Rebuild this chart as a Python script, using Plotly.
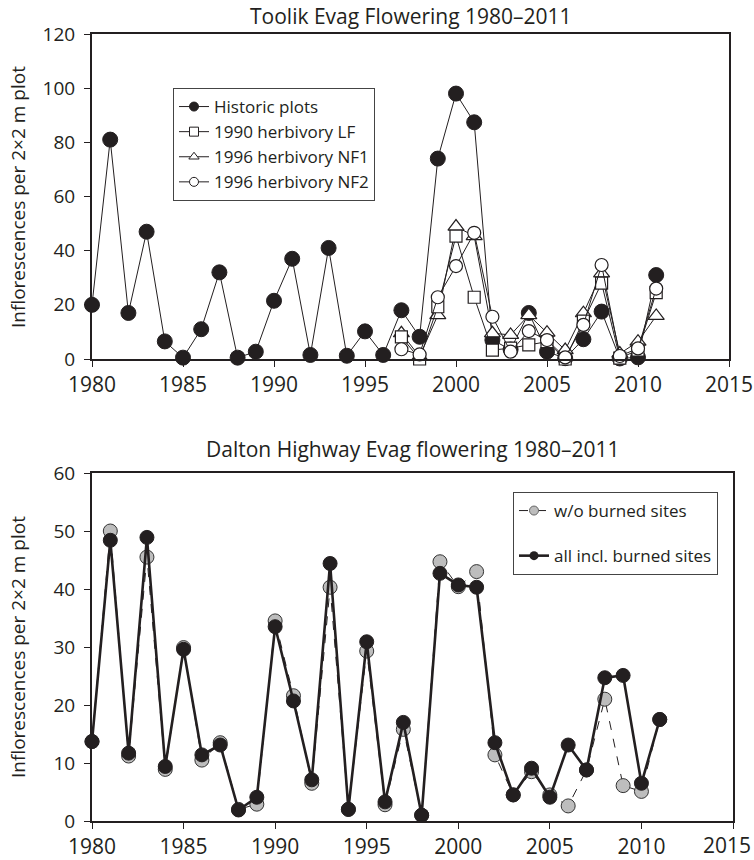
import plotly.graph_objects as go

# ---- Toolik: inflorescences per 2x2 m plot ----
years_toolik = list(range(1980, 2012))
historic = [20, 81, 17, 47, 6.5, 0.5, 11, 32, 0.5, 2.7, 21.5, 37, 1.5, 41, 1.2, 10.2,
            1.5, 18, 8.2, 74, 98, 87.4, 7, 3.5, 17, 2.7, 0.3, 7.3, 17.5, 0.2, 0.6, 31]

years_herb = list(range(1997, 2012))
herb_lf_1990 = [8.2, 0, 19.3, 45.4, 22.8, 3.3, 4, 5.2, 6.4, 0, 14, 28, 0.3, 3.3, 24.5]
herb_nf1_1996 = [9.5, 0.9, 16.2, 48.9, 45.4, 9.5, 8.9, 16.2, 9.7, 3.3, 16.9, 31.6, 2, 6.4, 15.9]
herb_nf2_1996 = [3.6, 1.7, 22.8, 34.3, 46.6, 15.6, 2.7, 10.3, 7, 0.6, 12.6, 34.7, 1.1, 3.9, 26]

# ---- Dalton Highway ----
years_dalton = list(range(1980, 2012))
all_incl_burned = [13.7, 48.4, 11.7, 48.9, 9.4, 29.6, 11.4, 13.1, 1.9, 4.1, 33.5, 20.7,
                   7.1, 44.4, 2.0, 30.9, 3.3, 17.0, 1.0, 42.7, 40.7, 40.3, 13.5, 4.5,
                   9.1, 4.1, 13.1, 8.8, 24.7, 25.1, 6.5, 17.5]
wo_burned = [13.7, 50.0, 11.2, 45.5, 8.9, 29.9, 10.5, 13.5, 2.0, 2.9, 34.5, 21.6,
             6.5, 40.3, 2.0, 29.3, 2.8, 15.8, 1.0, 44.7, 40.4, 43.0, 11.4, 4.5,
             8.5, 4.5, 2.6, 8.8, 21.0, 6.1, 5.1, 17.5]

x_ticks = [1980, 1985, 1990, 1995, 2000, 2005, 2010, 2015]
top_y_ticks = [0, 20, 40, 60, 80, 100, 120]
bottom_y_ticks = [0, 10, 20, 30, 40, 50, 60]

top_title = "Toolik Evag Flowering 1980\u20132011"
bottom_title = "Dalton Highway Evag flowering 1980\u20132011"
y_label = "Inflorescences per 2\u00d72 m plot"

INK = "#231f20"
FONT = "Open Sans"
W, H = 754, 860

# bottom axis: the last label sits on its own overlay axis, nudged left to stay on the page
bottom_x_text = [str(v) for v in x_ticks[:-1]] + [""]
bottom_last_tick = [x_ticks[-1]]

fig = go.Figure()

# ---------- Toolik traces ----------
fig.add_trace(go.Scatter(
    x=years_toolik, y=historic, mode="lines+markers", xaxis="x", yaxis="y",
    line=dict(color=INK, width=1),
    marker=dict(symbol="circle", size=15, color=INK, line=dict(color=INK, width=1)),
    cliponaxis=False, showlegend=False))

open_series = [
    (herb_nf1_1996, "triangle-up", 14),
    (herb_lf_1990, "square", 12),
    (herb_nf2_1996, "circle", 13),
]
for vals, sym, sz in open_series:
    fig.add_trace(go.Scatter(
        x=years_herb, y=vals, mode="lines+markers", xaxis="x", yaxis="y",
        line=dict(color=INK, width=1),
        marker=dict(symbol=sym, size=sz, color="white", line=dict(color=INK, width=1.2)),
        cliponaxis=False, showlegend=False))

# legend entries (smaller symbols than the plotted markers)
legend_top = [
    ("Historic plots", "circle", INK),
    ("1990 herbivory LF", "square", "white"),
    ("1996 herbivory NF1", "triangle-up", "white"),
    ("1996 herbivory NF2", "circle", "white"),
]
for name, sym, fill in legend_top:
    fig.add_trace(go.Scatter(
        x=[None], y=[None], mode="lines+markers", name=name, xaxis="x", yaxis="y",
        line=dict(color=INK, width=1),
        marker=dict(symbol=sym, size=9, color=fill, line=dict(color=INK, width=1)),
        legend="legend"))

# ---------- Dalton traces ----------
fig.add_trace(go.Scatter(
    x=years_dalton, y=wo_burned, mode="lines+markers", xaxis="x2", yaxis="y2",
    line=dict(color=INK, width=1, dash="dash"),
    marker=dict(symbol="circle", size=14, color="#bdbdbd", line=dict(color="#333333", width=1)),
    cliponaxis=False, showlegend=False))
fig.add_trace(go.Scatter(
    x=years_dalton, y=all_incl_burned, mode="lines+markers", xaxis="x2", yaxis="y2",
    line=dict(color=INK, width=2.6),
    marker=dict(symbol="circle", size=14, color=INK, line=dict(color=INK, width=1)),
    cliponaxis=False, showlegend=False))

# legend-only entries; they live on the overlay axis so that axis gets drawn
fig.add_trace(go.Scatter(
    x=[None], y=[None], mode="lines+markers", name="w/o burned sites",
    xaxis="x3", yaxis="y2", legendgroup="a",
    line=dict(color=INK, width=1, dash="dash"),
    marker=dict(symbol="circle", size=9, color="#bdbdbd", line=dict(color="#666666", width=1)),
    legend="legend2"))
fig.add_trace(go.Scatter(
    x=[None], y=[None], mode="lines+markers", name="all incl. burned sites",
    xaxis="x3", yaxis="y2", legendgroup="b",
    line=dict(color=INK, width=2.6),
    marker=dict(symbol="circle", size=9, color=INK),
    legend="legend2"))


def px_x(p):
    return p / W


def px_y(p):
    return 1 - p / H


axis_common = dict(
    showline=True, linecolor=INK, linewidth=2, mirror=True,
    ticks="outside", ticklen=6, tickwidth=1, tickcolor=INK,
    showgrid=False, zeroline=False, automargin=False,
)
x_font = dict(family=FONT, size=21, color=INK)
y_font = dict(family=FONT, size=19, color=INK)

fig.update_layout(
    width=W, height=H,
    margin=dict(l=0, r=0, t=0, b=0, autoexpand=False),
    paper_bgcolor="white", plot_bgcolor="white",
    font=dict(family=FONT, color=INK),
    xaxis=dict(domain=[px_x(92), px_x(729)], range=[1980, 2015], anchor="y",
               tickvals=x_ticks, ticklabelstandoff=0, ticklabeloverflow="allow",
               tickfont=x_font, **axis_common),
    yaxis=dict(domain=[px_y(359), px_y(34)], range=[0, 120], anchor="x",
               tickvals=top_y_ticks, ticklabelstandoff=5, tickfont=y_font, **axis_common),
    xaxis2=dict(domain=[px_x(92), px_x(733)], range=[1980, 2015], anchor="y2",
                tickvals=x_ticks, ticktext=bottom_x_text, ticklabelstandoff=0,
                ticklabeloverflow="allow", tickfont=x_font, **axis_common),
    xaxis3=dict(overlaying="x2", anchor="y2", side="bottom", range=[1980, 2015],
                tickvals=bottom_last_tick, ticktext=[str(v) for v in bottom_last_tick],
                ticks="outside", ticklen=6, tickwidth=1, tickcolor=INK,
                ticklabelstandoff=0, ticklabelshift=-6, ticklabeloverflow="allow",
                showline=False, showgrid=False, zeroline=False, automargin=False,
                tickfont=x_font),
    yaxis2=dict(domain=[px_y(821), px_y(473)], range=[0, 60], anchor="x2",
                tickvals=bottom_y_ticks, ticklabelstandoff=5, tickfont=y_font, **axis_common),
    legend=dict(
        x=px_x(173), y=px_y(88), xanchor="left", yanchor="top",
        bgcolor="white", bordercolor="#444444", borderwidth=1,
        font=dict(family=FONT, size=17, color=INK),
        itemwidth=30, tracegroupgap=0,
    ),
    legend2=dict(
        x=px_x(513), y=px_y(492), xanchor="left", yanchor="top",
        bgcolor="white", bordercolor="#444444", borderwidth=1,
        font=dict(family=FONT, size=17, color=INK),
        itemwidth=30, tracegroupgap=20,
    ),
    annotations=[
        dict(text=top_title, x=(px_x(92) + px_x(729)) / 2, y=px_y(16),
             xref="paper", yref="paper", showarrow=False,
             xanchor="center", yanchor="middle",
             font=dict(family=FONT, size=21, color=INK)),
        dict(text=bottom_title, x=(px_x(92) + px_x(733)) / 2, y=px_y(449),
             xref="paper", yref="paper", showarrow=False,
             xanchor="center", yanchor="middle",
             font=dict(family=FONT, size=21, color=INK)),
        dict(text=y_label, x=px_x(18), y=px_y(197), xref="paper", yref="paper",
             showarrow=False, textangle=-90, xanchor="center", yanchor="middle",
             font=dict(family=FONT, size=19, color=INK)),
        dict(text=y_label, x=px_x(18), y=px_y(647), xref="paper", yref="paper",
             showarrow=False, textangle=-90, xanchor="center", yanchor="middle",
             font=dict(family=FONT, size=19, color=INK)),
    ],
)

fig.write_html("out.html")
